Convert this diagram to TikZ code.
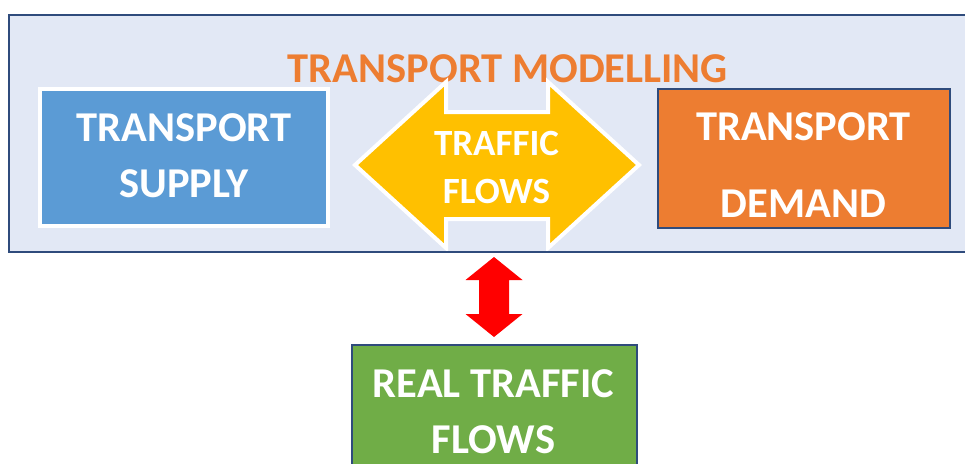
\documentclass[tikz,border=0pt]{standalone}
\usepackage{fontspec}
\setmainfont{Carlito}
\definecolor{bgfill}{HTML}{E2E8F5}
\definecolor{navy}{HTML}{2F4B7C}
\definecolor{supplyblue}{HTML}{5B9BD5}
\definecolor{demandorange}{HTML}{ED7D31}
\definecolor{flowyellow}{HTML}{FFC000}
\definecolor{realgreen}{HTML}{70AD47}
\definecolor{linkred}{HTML}{FF0000}
\tikzset{
  bigtext/.style={font=\fontsize{42.5}{50}\selectfont\bfseries, text=white, anchor=base, inner sep=0pt},
  arrowtext/.style={font=\fontsize{37}{44}\selectfont\bfseries, text=white, anchor=base, inner sep=0pt},
  titletext/.style={font=\fontsize{42.5}{50}\selectfont\bfseries, text=demandorange, anchor=base, inner sep=0pt},
  boxshape/.style={rectangle, inner sep=0pt, outer sep=0pt},
}
\begin{document}
\begin{tikzpicture}[x=1pt,y=-1pt]
\useasboundingbox (0,0) rectangle (965,463);
% outer modelling frame
\node[boxshape, fill=bgfill, minimum width=963pt, minimum height=237pt, anchor=north west] (frame) at (9,15) {};
\node[titletext] (title) at (508,82) {TRANSPORT MODELLING};
% supply box
\node[boxshape, fill=supplyblue, draw=white, line width=4pt, minimum width=288pt, minimum height=137pt, anchor=north west] (supply) at (40,89) {};
\node[bigtext] (supply1) at (184,141) {TRANSPORT};
\node[bigtext] (supply2) at (184,197) {SUPPLY};
% demand box
\node[boxshape, fill=demandorange, draw=navy, line width=2pt, minimum width=292pt, minimum height=139pt, anchor=north west] (demand) at (658,89) {};
\node[bigtext] (demand1) at (803.5,140) {TRANSPORT};
\node[bigtext] (demand2) at (803.5,217) {DEMAND};
% yellow double arrow
\coordinate (flows) at (496.5,165);
\draw[fill=flowyellow, draw=white, line width=4pt, line join=miter]
  (355,165) -- (446,82) -- (446,112) -- (548,112) -- (548,82) -- (639,165)
  -- (548,248) -- (548,219) -- (446,219) -- (446,248) -- cycle;
\node[arrowtext] (flows1) at (496.5,155) {TRAFFIC};
\node[arrowtext] (flows2) at (496.5,203) {FLOWS};
% redraw frame border on top
\draw[navy, line width=2.5pt] (frame.south west) rectangle (frame.north east);
% green box
\node[boxshape, fill=realgreen, draw=navy, line width=2pt, minimum width=285pt, minimum height=130pt, anchor=north west] (real) at (352,345) {};
\node[bigtext] (real1) at (493.5,397) {REAL TRAFFIC};
\node[bigtext] (real2) at (493.5,453) {FLOWS};
% red double arrow between frame and real box
\coordinate (ra) at (494,257);
\coordinate (rb) at (494,337);
\fill[linkred] (ra) -- ++(28.5,23) -- ++(-13.5,0) -- ++(0,34) -- ++(13.5,0)
  -- (rb) -- ++(-28.5,-23) -- ++(13.5,0) -- ++(0,-34) -- ++(-13.5,0) -- cycle;
\end{tikzpicture}
\end{document}
